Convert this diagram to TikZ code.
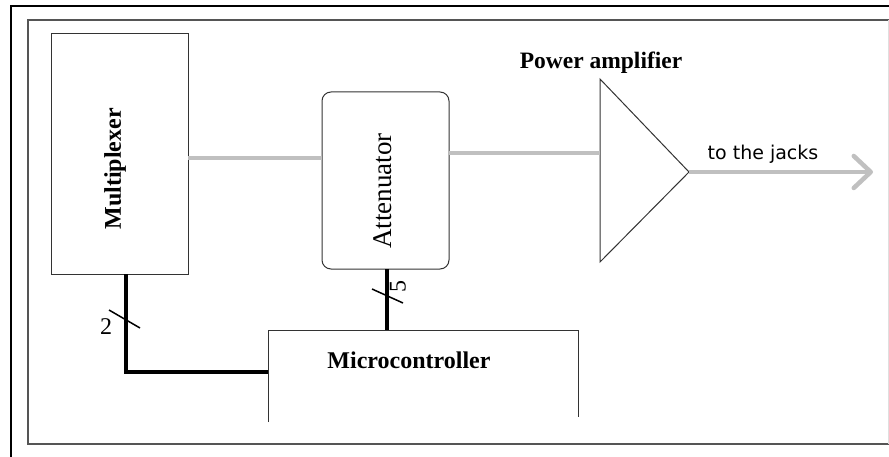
\documentclass[tikz,border=0pt]{standalone}
\usepackage{fontspec}
\setmainfont{Liberation Serif}
\newfontfamily\sansjacks{DejaVu Sans}
\usetikzlibrary{arrows.meta}
\definecolor{framegray}{HTML}{555555}
\definecolor{boxline}{HTML}{333333}
\definecolor{sig}{HTML}{C0C0C0}
\begin{document}
\begin{tikzpicture}[x=1pt,y=-1pt,
  blk/.style={draw=boxline,line width=1pt,inner sep=0pt},
  sigline/.style={draw=sig,line width=3.8pt},
  bus/.style={draw=black,line width=4.8pt},
  tick/.style={draw=black,line width=1.5pt},
  lbl/.style={font=\fontsize{24}{26}\selectfont\bfseries}]
\useasboundingbox (0,0) rectangle (889,457);
\fill[white] (0,0) rectangle (889,457);
% frames
\draw[black,line width=2.2pt] (11,457) -- (11,6) -- (889,6);
\draw[framegray,line width=1.6pt] (889,20) -- (28,20) -- (28,444) -- (889,444);
\draw[gray!25,line width=1pt] (888,20) -- (888,444);
% multiplexer
\node[blk,minimum width=137pt,minimum height=240pt] (mux) at (119.5,154) {};
\node[lbl,rotate=90] (muxt) at (115,169) {Multiplexer};
% attenuator
\node[blk,rounded corners=9pt,minimum width=127pt,minimum height=177pt] (att) at (385.5,180.5) {};
\node[rotate=90,font=\fontsize{27}{29}\selectfont] (attt) at (383,191) {Attenuator};
% power amplifier
\coordinate (ampTop) at (600,79);
\coordinate (ampBot) at (600,262);
\coordinate (ampOut) at (689,172);
\coordinate (ampIn) at (600,153);
\draw[boxline,line width=1pt] (ampTop) -- (ampBot) -- (ampOut) -- cycle;
\node[lbl,font=\fontsize{23.5}{26}\selectfont\bfseries] (ampt) at (601,63) {Power amplifier};
% microcontroller
\coordinate (mcTL) at (268,330);
\coordinate (mcTR) at (578,330);
\draw[boxline,line width=1pt] (268,422) -- (mcTL) -- (mcTR) -- (578,417);
\node[lbl,font=\fontsize{24}{26}\selectfont\bfseries] (mct) at (409,360) {Microcontroller};
% signal lines
\coordinate (muxOut) at (188,158);
\coordinate (attIn) at (322,158);
\coordinate (attOut) at (449,153);
\draw[sigline] (muxOut) -- (attIn);
\draw[sigline] (attOut) -- (ampIn);
\coordinate (jacks) at (873,172);
\draw[sig,line width=4.5pt,-{Straight Barb[length=17pt,width=32pt,round]}] (ampOut) -- (jacks);
\node[font=\sansjacks\fontsize{19}{21}\selectfont] (jt) at (763,154) {to the jacks};
% buses
\coordinate (muxBus) at (126,274);
\coordinate (busCorner) at (126,372);
\coordinate (mcLeft) at (268,372);
\draw[bus] (muxBus) -- (busCorner) -- (mcLeft);
\draw[tick] (109,310) -- (140,328);
\node[font=\fontsize{24}{26}\selectfont] (two) at (106,327) {2};
\coordinate (attBus) at (387,269);
\coordinate (mcTop) at (387,330);
\draw[bus] (attBus) -- (mcTop);
\draw[tick] (372,289) -- (403,303);
\node[rotate=90,font=\fontsize{24}{26}\selectfont] (five) at (398,286) {5};
\end{tikzpicture}
\end{document}
